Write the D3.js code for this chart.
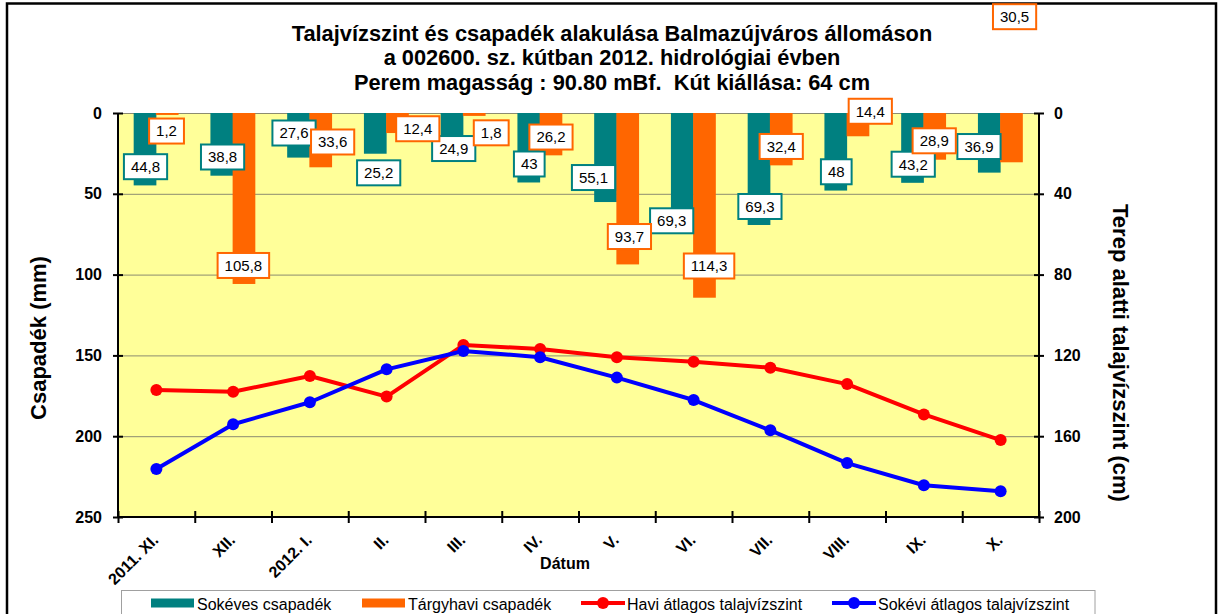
<!DOCTYPE html>
<html>
<head>
<meta charset="utf-8">
<script src="https://cdn.jsdelivr.net/npm/d3@7"></script>
<style>
  body { margin: 0; background: #fff; }
  svg { display: block; font-family: 'Liberation Sans', Arial, sans-serif; }
</style>
</head>
<body>
<div id="chart"></div>
<script>
const months = ['2011. XI.', 'XII.', '2012. I.', 'II.', 'III.', 'IV.', 'V.', 'VI.', 'VII.', 'VIII.', 'IX.', 'X.'];
const sokevesCsapadek = [44.8, 38.8, 27.6, 25.2, 24.9, 43, 55.1, 69.3, 69.3, 48, 43.2, 36.9];
const targyhaviCsapadek = [1.2, 105.8, 33.6, 12.4, 1.8, 26.2, 93.7, 114.3, 32.4, 14.4, 28.9, 30.5];
const haviTalajviz = [137.1, 138.0, 130.2, 140.4, 114.9, 116.8, 120.9, 123.1, 126.1, 134.2, 149.2, 161.9];
const sokeviTalajviz = [176.2, 154.1, 143.2, 126.9, 117.8, 120.9, 131.0, 142.1, 157.1, 173.3, 184.3, 187.3];
const leftTicks = [0, 50, 100, 150, 200, 250];
const rightTicks = [0, 40, 80, 120, 160, 200];
const titleLines = [
  'Talajvízszint és csapadék alakulása Balmazújváros állomáson',
  'a 002600. sz. kútban 2012. hidrológiai évben',
  'Perem magasság : 90.80 mBf.  Kút kiállása: 64 cm'
];
const seriesNames = ['Sokéves csapadék', 'Tárgyhavi csapadék', 'Havi átlagos talajvízszint', 'Sokévi átlagos talajvízszint'];

// label nudges (dx, dy from bar end), the Excel labels were dragged by hand
const tealShift = [[0.5, -18.7], [0.8, -18.7], [-4.5, -24.6], [3.4, 19.1], [1.7, -4.7], [0.5, -18.5],
                   [-12, -24.5], [-10.6, -4.2], [0.9, -18.5], [0.5, -18.8], [0.7, -18.6], [-10.3, -26.1]];
const orangeShift = [[-0.7, 16.1], [-0.6, -18.5], [11.9, -25.3], [20.3, -4.3], [17, 16.9], [0, -18.3],
                     [1.7, -27.9], [4.6, -31.7], [0, -18.9], [12.3, -25], [-0.5, -18.9], [3.1, -145.6]];

const W = 1220, H = 614;
const plotL = 118, plotR = 1039, plotT = 113, plotB = 517;
const teal = '#008080', orange = '#FF6600', red = '#FF0000', blue = '#0000FF';

const svg = d3.select('#chart')
  .append('svg')
  .attr('width', W)
  .attr('height', H);

// outer frame
svg.append('rect')
  .attr('x', 7).attr('y', 3.5)
  .attr('width', 1209).attr('height', 700)
  .attr('fill', '#fff')
  .attr('stroke', '#000')
  .attr('stroke-width', 2.5);

const x = d3.scaleBand().domain(months).range([plotL, plotR]).padding(0);
const bw = x.bandwidth();
const barW = 22.7;
const yLeft = d3.scaleLinear().domain([0, 250]).range([plotT, plotB]);
const yRight = d3.scaleLinear().domain([0, 200]).range([plotT, plotB]);

// plot area
svg.append('rect')
  .attr('x', plotL).attr('y', plotT)
  .attr('width', plotR - plotL).attr('height', plotB - plotT)
  .attr('fill', '#FFFF99');

svg.append('g')
  .selectAll('line')
  .data(leftTicks.slice(0, -1))
  .enter()
  .append('line')
  .attr('x1', plotL).attr('x2', plotR)
  .attr('y1', d => yLeft(d) + 0.5).attr('y2', d => yLeft(d) + 0.5)
  .attr('stroke', '#8c8c70')
  .attr('stroke-width', 1);

// title
svg.append('g')
  .selectAll('text')
  .data(titleLines)
  .enter()
  .append('text')
  .attr('x', 612)
  .attr('y', (d, i) => [40.5, 65, 89.5][i])
  .attr('text-anchor', 'middle')
  .style('font-weight', 'bold')
  .style('font-size', '21.8px')
  .style('white-space', 'pre')
  .text(d => d);

// bars
const tealX = i => x(months[i]) + bw / 2 - barW;
const orangeX = i => x(months[i]) + bw / 2 - 0.5;

svg.append('g')
  .selectAll('rect')
  .data(sokevesCsapadek)
  .enter()
  .append('rect')
  .attr('x', (d, i) => tealX(i))
  .attr('y', yLeft(0))
  .attr('width', barW)
  .attr('height', d => yLeft(d) - yLeft(0))
  .attr('fill', teal);

svg.append('g')
  .selectAll('rect')
  .data(targyhaviCsapadek)
  .enter()
  .append('rect')
  .attr('x', (d, i) => orangeX(i))
  .attr('y', yLeft(0))
  .attr('width', barW)
  .attr('height', d => yLeft(d) - yLeft(0))
  .attr('fill', orange);

// axes
const xTicks = d3.scaleLinear().domain([0, months.length]).range([plotL, plotR]);
const xAxis = svg.append('g')
  .attr('transform', `translate(0,${plotB})`)
  .call(d3.axisBottom(xTicks).tickValues(d3.range(months.length + 1)).tickSize(6).tickFormat(''));
xAxis.selectAll('.tick line').attr('y1', -6);

const leftAxis = svg.append('g')
  .attr('transform', `translate(${plotL},0)`)
  .call(d3.axisLeft(yLeft).tickValues(leftTicks).tickSize(5).tickPadding(11));
leftAxis.selectAll('.tick line').attr('x1', 5);

const rightAxis = svg.append('g')
  .attr('transform', `translate(${plotR},0)`)
  .call(d3.axisRight(yRight).tickValues(rightTicks).tickSize(5).tickPadding(10));
rightAxis.selectAll('.tick line').attr('x1', -5);

[xAxis, leftAxis, rightAxis].forEach(a => {
  a.selectAll('.domain').attr('stroke', '#000').attr('stroke-width', 2);
  a.selectAll('.tick line').attr('stroke', '#000').attr('stroke-width', 2);
  a.selectAll('.tick text')
    .attr('fill', '#000')
    .style('font-family', "'Liberation Sans', Arial, sans-serif")
    .style('font-size', '16px')
    .style('font-weight', 'bold');
});
leftAxis.select('.domain').attr('d', `M0,${plotT}V${plotB}`);
rightAxis.select('.domain').attr('d', `M0,${plotT}V${plotB}`);
xAxis.select('.domain').attr('d', `M${plotL},0H${plotR}`);

// month labels
svg.append('g')
  .selectAll('text')
  .data(months)
  .enter()
  .append('text')
  .attr('transform', d => `translate(${x(d) + bw / 2 + 3},541) rotate(-45)`)
  .attr('text-anchor', 'end')
  .style('font-size', '16px')
  .style('font-weight', 'bold')
  .text(d => d);

svg.append('text')
  .attr('x', 565).attr('y', 569)
  .attr('text-anchor', 'middle')
  .style('font-size', '16px')
  .style('font-weight', 'bold')
  .text('Dátum');

svg.append('text')
  .attr('transform', 'translate(46,338) rotate(-90)')
  .attr('text-anchor', 'middle')
  .style('font-size', '22px')
  .style('font-weight', 'bold')
  .text('Csapadék (mm)');

svg.append('text')
  .attr('transform', 'translate(1113,353) rotate(90)')
  .attr('text-anchor', 'middle')
  .style('font-size', '22px')
  .style('font-weight', 'bold')
  .text('Terep alatti talajvízszint (cm)');

// lines
const drawLine = (values, color) => {
  const line = d3.line()
    .x((d, i) => x(months[i]) + bw / 2)
    .y(d => yRight(d));
  svg.append('path')
    .datum(values)
    .attr('d', line)
    .attr('fill', 'none')
    .attr('stroke', color)
    .attr('stroke-width', 4)
    .attr('stroke-linejoin', 'round');
  svg.append('g')
    .selectAll('circle')
    .data(values)
    .enter()
    .append('circle')
    .attr('cx', (d, i) => x(months[i]) + bw / 2)
    .attr('cy', d => yRight(d))
    .attr('r', 6)
    .attr('fill', color);
};
drawLine(haviTalajviz, red);
drawLine(sokeviTalajviz, blue);

// data labels
const fmt = v => String(v).replace('.', ',');
const drawLabels = (values, shift, color, barX) => {
  svg.append('g')
    .selectAll('g')
    .data(values)
    .enter()
    .append('g')
    .attr('transform', (d, i) => `translate(${barX(i) + barW / 2 + shift[i][0]},${yLeft(d) + shift[i][1]})`)
    .each(function (d) {
      const g = d3.select(this);
      const rect = g.append('rect');
      const t = g.append('text')
        .attr('text-anchor', 'middle')
        .attr('dy', '0.36em')
        .style('font-size', '15px')
        .text(fmt(d));
      const w = t.node().getComputedTextLength() + 14;
      rect
        .attr('x', -w / 2).attr('y', -12.5)
        .attr('width', w).attr('height', 25)
        .attr('fill', '#fff')
        .attr('stroke', color)
        .attr('stroke-width', 2);
    });
};
drawLabels(sokevesCsapadek, tealShift, teal, tealX);
drawLabels(targyhaviCsapadek, orangeShift, orange, orangeX);

// legend
const legend = svg.append('g');
legend.append('rect')
  .attr('x', 121.5).attr('y', 590.5)
  .attr('width', 973.5).attr('height', 40)
  .attr('fill', '#fff')
  .attr('stroke', '#a0a0a0')
  .attr('stroke-width', 1);

const legendX = [151, 362, 581, 832];
const legendColors = [teal, orange, red, blue];
seriesNames.forEach((name, i) => {
  const lx = legendX[i];
  if (i < 2) {
    legend.append('rect')
      .attr('x', lx).attr('y', 598.5)
      .attr('width', 43).attr('height', 9)
      .attr('fill', legendColors[i]);
  } else {
    legend.append('line')
      .attr('x1', lx).attr('x2', lx + 44)
      .attr('y1', 603).attr('y2', 603)
      .attr('stroke', legendColors[i])
      .attr('stroke-width', 4);
    legend.append('circle')
      .attr('cx', lx + 22).attr('cy', 603)
      .attr('r', 6)
      .attr('fill', legendColors[i]);
  }
  legend.append('text')
    .attr('x', lx + 46).attr('y', 609.5)
    .style('font-size', '16px')
    .text(name);
});
</script>
</body>
</html>
